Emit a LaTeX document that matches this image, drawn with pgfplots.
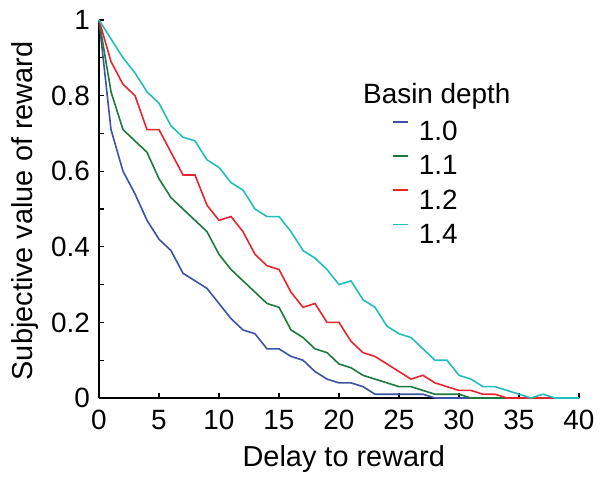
\documentclass[border=0pt]{standalone}
\usepackage{fontspec}
\setmainfont{Liberation Sans}
\usepackage{pgfplots}
\pgfplotsset{compat=1.18}
\usetikzlibrary{calc}

\definecolor{cdeep}{RGB}{58,83,164}
\definecolor{cgreen}{RGB}{28,122,62}
\definecolor{cred}{RGB}{232,37,46}
\definecolor{ccyan}{RGB}{32,190,190}

% subjective value vs delay, one table per basin depth
\pgfplotstableread{
x y
0 1.00
1 0.71
2 0.60
3 0.54
4 0.47
5 0.42
6 0.39
7 0.33
8 0.31
9 0.29
10 0.25
11 0.21
12 0.18
13 0.17
14 0.13
15 0.13
16 0.11
17 0.10
18 0.07
19 0.05
20 0.04
21 0.04
22 0.03
23 0.01
24 0.01
25 0.01
26 0.01
27 0.01
28 0
29 0
30 0
31 0
32 0
33 0
34 0
35 0
36 0
37 0
38 0
39 0
40 0
}\dA
\pgfplotstableread{
x y
0 1.00
1 0.81
2 0.71
3 0.68
4 0.65
5 0.58
6 0.53
7 0.50
8 0.47
9 0.44
10 0.38
11 0.34
12 0.31
13 0.28
14 0.25
15 0.24
16 0.18
17 0.16
18 0.13
19 0.12
20 0.09
21 0.08
22 0.06
23 0.05
24 0.04
25 0.03
26 0.03
27 0.02
28 0.01
29 0.01
30 0.01
31 0
32 0
33 0
34 0
35 0
36 0
37 0
38 0
39 0
40 0
}\dB
\pgfplotstableread{
x y
0 1.00
1 0.89
2 0.83
3 0.80
4 0.71
5 0.71
6 0.65
7 0.59
8 0.59
9 0.51
10 0.47
11 0.48
12 0.44
13 0.38
14 0.35
15 0.34
16 0.28
17 0.24
18 0.25
19 0.20
20 0.20
21 0.15
22 0.12
23 0.11
24 0.09
25 0.07
26 0.05
27 0.06
28 0.04
29 0.03
30 0.02
31 0.02
32 0.01
33 0.01
34 0
35 0
36 0
37 0
38 0
39 0
40 0
}\dC
\pgfplotstableread{
x y
0 1.00
1 0.95
2 0.90
3 0.86
4 0.81
5 0.78
6 0.72
7 0.69
8 0.68
9 0.63
10 0.61
11 0.57
12 0.55
13 0.50
14 0.48
15 0.48
16 0.44
17 0.39
18 0.37
19 0.34
20 0.30
21 0.31
22 0.26
23 0.24
24 0.19
25 0.17
26 0.16
27 0.13
28 0.10
29 0.10
30 0.06
31 0.05
32 0.03
33 0.03
34 0.02
35 0.01
36 0
37 0.01
38 0
39 0
40 0
}\dD

\begin{document}
\begin{tikzpicture}
\begin{axis}[
  name=ax,
  width=480bp, height=378bp, scale only axis,
  xmin=0, xmax=40, ymin=0, ymax=1,
  axis lines=left, axis line style={-, line width=1.3bp},
  xtick={0,5,...,40}, ytick={0,0.2,...,1.01},
  minor y tick num=1,
  tick align=inside, major tick length=5bp, minor tick length=5bp,
  tick style={line width=1.1bp, black},
  /pgf/number format/assume math mode=true,
  yticklabel style={/pgf/number format/fixed},
  tick label style={font=\fontsize{28}{32}\selectfont, inner sep=0pt},
  xticklabel shift=12bp, yticklabel shift=9bp,
  label style={font=\fontsize{29}{33}\selectfont},
  xlabel={Delay to reward},
  xlabel style={at={(axis description cs:0.51,-0.1825)}, anchor=base},
  ylabel={Subjective value of reward},
  ylabel style={at={(axis description cs:-0.138,0.495)}, anchor=base, rotate=0},
  clip=false,
  legend style={draw=none, fill=none, inner sep=0pt,
    at={(axis cs:24.42,0.733)}, anchor=north west,
    font=\fontsize{28}{32}\selectfont, row sep=13bp,
    nodes={inner sep=0pt}},
  legend cell align=left,
  legend image code/.code={
    \draw[#1, line width=1.4bp] (0bp,10bp) -- (15bp,10bp);
    \path[draw=none, fill=none] (0bp,10bp) (26bp,10bp);},
  every axis plot/.append style={line width=1.6bp},
]
\addplot[cdeep] table[x=x, y=y] {\dA};
\addlegendentry{1.0}
\addplot[cgreen] table[x=x, y=y] {\dB};
\addlegendentry{1.1}
\addplot[cred] table[x=x, y=y] {\dC};
\addlegendentry{1.2}
\addplot[ccyan] table[x=x, y=y] {\dD};
\addlegendentry{1.4}
\node[anchor=base west, inner sep=0pt, font=\fontsize{28}{32}\selectfont] at (axis cs:22,0.780) {Basin depth};
\end{axis}
\pgfresetboundingbox
\path ($(ax.south west)+(-99bp,-83bp)$) rectangle ($(ax.south west)+(502bp,398bp)$);
\end{tikzpicture}
\end{document}
